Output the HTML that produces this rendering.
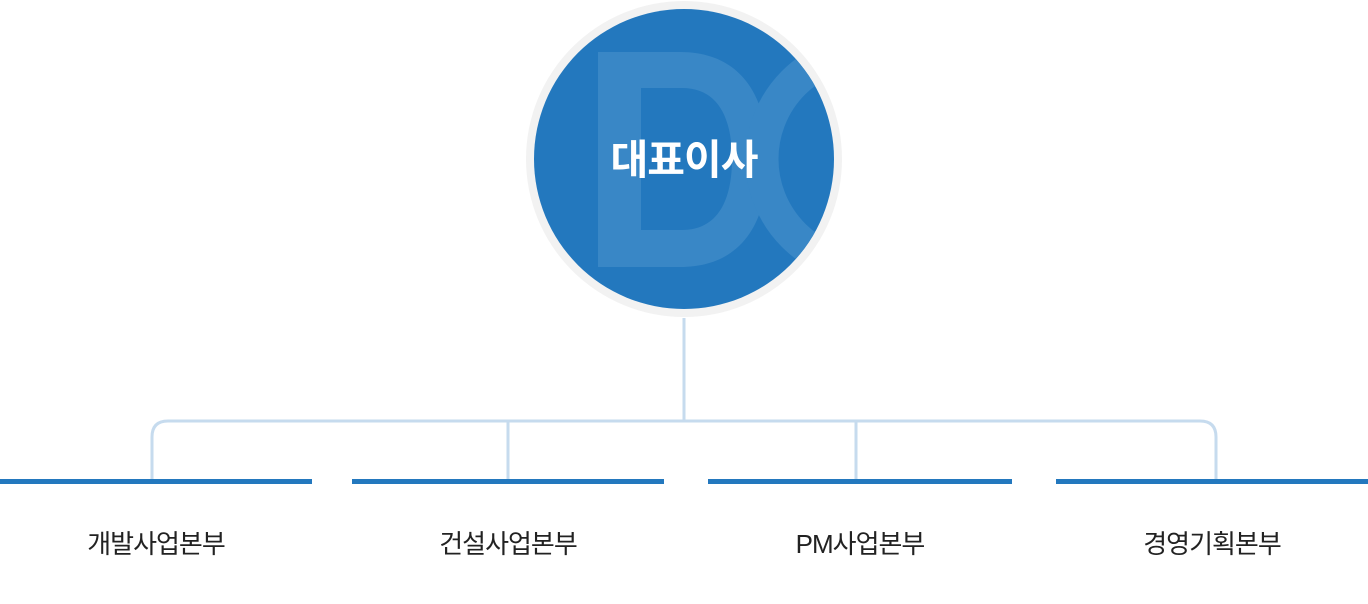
<!DOCTYPE html>
<html><head><meta charset="utf-8"><style>
html,body{margin:0;padding:0;background:#fff;width:1368px;height:604px;overflow:hidden;position:relative}
.lbl{position:absolute;top:527px;width:300px;text-align:center;font:400 26px/34px "Liberation Sans","Noto Sans CJK KR",sans-serif;color:#222;letter-spacing:-1px}
</style></head><body>
<svg width="1368" height="604" style="position:absolute;left:0;top:0">
<defs><clipPath id="c"><circle cx="684" cy="159" r="150"/></clipPath></defs>
<circle cx="684" cy="159" r="158" fill="#f2f2f2"/>
<circle cx="684" cy="159" r="150" fill="#2378be"/>
<g clip-path="url(#c)" fill="#3987c6">
<path fill-rule="evenodd" d="M598 52 H680 C740 52 768 95 768 159 C768 225 740 267 680 267 H598 Z M641 88 V230 H682 C718 230 732 200 732 159 C732 118 718 88 682 88 Z"/>
<circle cx="870" cy="159" r="108" fill="none" stroke="#3987c6" stroke-width="33"/>
</g>
<text x="684" y="174" text-anchor="middle" font-family="Liberation Sans, Noto Sans CJK KR, sans-serif" font-weight="700" font-size="41" fill="#fff" letter-spacing="-1">대표이사</text>
<g stroke="#c6dbee" stroke-width="3" fill="none">
<line x1="684" y1="318" x2="684" y2="421"/>
<path d="M152 480 V437 Q152 421 168 421 H1200 Q1216 421 1216 437 V480"/>
<line x1="508" y1="421" x2="508" y2="480"/>
<line x1="856" y1="421" x2="856" y2="480"/>
</g>
<g fill="#2378be">
<rect x="0" y="479" width="312" height="5"/>
<rect x="352" y="479" width="312" height="5"/>
<rect x="708" y="479" width="304" height="5"/>
<rect x="1056" y="479" width="312" height="5"/>
</g>
</svg>
<div class="lbl" style="left:6px">개발사업본부</div>
<div class="lbl" style="left:358px">건설사업본부</div>
<div class="lbl" style="left:710px">PM사업본부</div>
<div class="lbl" style="left:1062px">경영기획본부</div>
</body></html>
